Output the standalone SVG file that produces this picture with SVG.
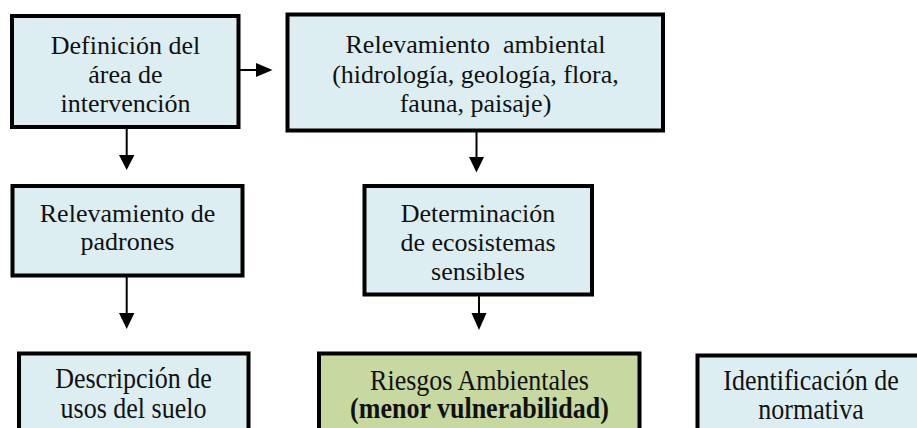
<svg xmlns="http://www.w3.org/2000/svg" width="917" height="428" viewBox="0 0 917 428">
<style>
.box{fill:#DDEEF3;stroke:#000;stroke-width:4}
.green{fill:#C7D8A0;stroke:#000;stroke-width:4}
text{font-family:'Liberation Serif','DejaVu Serif',serif;font-size:26px;fill:#111;text-anchor:middle}
.b{font-weight:bold}
.ln{stroke:#000;stroke-width:2;fill:none}
.ah{fill:#000}
</style>
<rect width="917" height="428" fill="#fff"/>
<g id="n1" font-family="Liberation Serif">
<rect class="box" x="12" y="16" width="226.5" height="111"/>
<text x="125.5" y="54">Definición del</text>
<text x="125.5" y="83">área de</text>
<text x="125.5" y="112">intervención</text>
</g>
<g id="n2" font-family="Liberation Serif">
<rect class="box" x="287.5" y="14.5" width="375.5" height="116"/>
<text x="475.5" y="53" xml:space="preserve">Relevamiento  ambiental</text>
<text x="475.5" y="82.5">(hidrología, geología, flora,</text>
<text x="475.5" y="111.5">fauna, paisaje)</text>
</g>
<g id="n3" font-family="Liberation Serif">
<rect class="box" x="12.5" y="186" width="230" height="89.5"/>
<text x="127.5" y="221.5">Relevamiento de</text>
<text x="127.5" y="250">padrones</text>
</g>
<g id="n4" font-family="Liberation Serif">
<rect class="box" x="364.5" y="186" width="227.5" height="108.5"/>
<text x="478" y="221.5">Determinación</text>
<text x="478" y="250.5">de ecosistemas</text>
<text x="478" y="280">sensibles</text>
</g>
<g id="n5" font-family="Liberation Serif">
<rect class="box" x="19" y="353.5" width="229.5" height="90"/>
<text x="133.5" y="388.5" transform="translate(0,-38.85) scale(1,1.1)">Descripción de</text>
<text x="133.5" y="418.5" transform="translate(0,-41.85) scale(1,1.1)">usos del suelo</text>
</g>
<g id="n6" font-family="Liberation Serif">
<rect class="green" x="319" y="353.5" width="320.5" height="90"/>
<text x="479.5" y="390" transform="translate(0,-39) scale(1,1.1)">Riesgos Ambientales</text>
<text class="b" x="479.5" y="418.5" transform="translate(0,-41.85) scale(1,1.1)">(menor vulnerabilidad)</text>
</g>
<g id="n7" font-family="Liberation Serif">
<rect class="box" x="697.5" y="355.5" width="227" height="90"/>
<text x="811" y="390" transform="translate(0,-39) scale(1,1.1)">Identificación de</text>
<text x="811" y="419" transform="translate(0,-41.9) scale(1,1.1)">normativa</text>
</g>
<g id="connectors">
<line class="ln" x1="240" y1="70" x2="257" y2="70"/>
<polygon class="ah" points="256,63 272.5,70 256,77"/>
<line class="ln" x1="126.7" y1="129" x2="126.7" y2="156"/>
<polygon class="ah" points="119,155 134.4,155 126.7,170"/>
<line class="ln" x1="476.5" y1="132" x2="476.5" y2="158"/>
<polygon class="ah" points="469,157 484,157 476.5,172.5"/>
<line class="ln" x1="126.7" y1="277" x2="126.7" y2="314"/>
<polygon class="ah" points="119,313 134.4,313 126.7,329"/>
<line class="ln" x1="479" y1="296" x2="479" y2="314"/>
<polygon class="ah" points="471.5,313 486.5,313 479,330"/>
</g>
</svg>
